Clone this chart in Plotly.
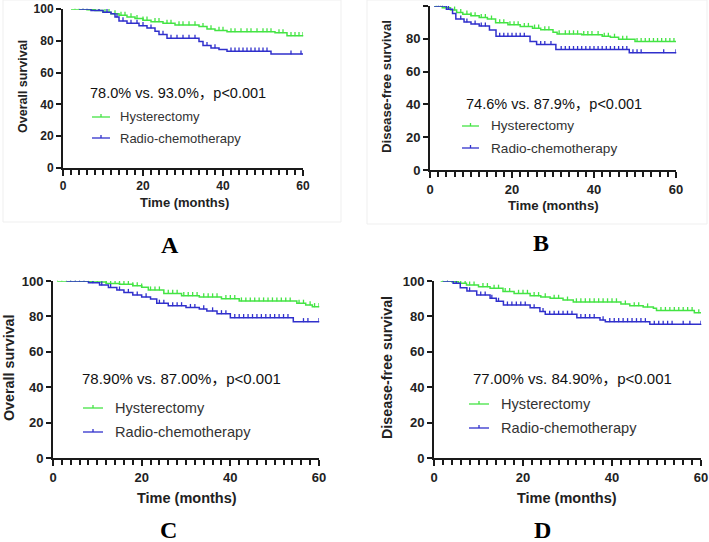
import numpy as np
import plotly.graph_objects as go

W, H = 709, 542

# ---------------- DATA ----------------
time_ticks = [0, 20, 40, 60]
surv_ticks = [0, 20, 40, 60, 80, 100]

# Panel A - Overall survival
A_hyst_t = [2, 6, 8, 10, 12, 14, 16, 18, 20, 22, 25, 28, 34, 36, 38, 41, 53, 56, 60]
A_hyst_s = [100, 99.5, 99, 98, 97, 96, 95, 94, 93, 92, 91, 90, 89, 87.5, 86.5, 85.7, 85, 83.2, 83.2]
A_hyst_c = [3, 4, 5, 6.5, 8, 9, 10.5, 11.5, 13, 14.5, 15.5, 17, 18.5, 20, 21, 23, 24, 26, 27, 29, 30,
            31.5, 33, 35, 37, 39, 40, 42, 43, 44.5, 46, 47, 48.5, 50, 51, 52, 54, 55, 57, 58, 59, 60]
A_radio_t = [4, 7, 10, 12, 13, 14, 16, 19, 21, 23, 24, 26, 34, 35, 37, 39, 41, 52, 60]
A_radio_s = [100, 99, 98, 97, 95, 92.5, 91, 89.5, 88, 86, 84, 81.6, 79.5, 77, 75.5, 74.5, 73.5, 71.7, 71.7]
A_radio_c = [5, 6, 9, 11, 13.5, 15, 17, 18.5, 20, 22, 25, 27, 28.5, 30, 31.5, 33, 36, 38,
             42, 43, 44, 45, 46, 47, 48, 49, 50, 51, 57, 59.5]

# Panel B - Disease-free survival
B_hyst_t = [1, 3, 5, 6.5, 8, 10, 12, 14, 16, 19, 22, 25, 27, 30, 31, 37, 42, 44, 46, 50, 60]
B_hyst_s = [100, 99, 97.5, 96, 95, 94, 93, 92, 89.8, 88.5, 87.5, 86.5, 85.5, 84, 83, 82.5, 81.5, 80.9, 79.7, 78.3, 78.3]
B_hyst_c = [1.5, 2.5, 3.5, 4.5, 6, 7.5, 9, 10, 11, 12.5, 13.5, 15, 17, 18, 19.5, 20.5, 21.5, 23, 24, 25.5,
            26.5, 28, 29, 31.5, 33, 34, 35, 36, 37.5, 38.5, 39.5, 41, 42.5, 43.5, 45, 47, 48, 50.5, 51.5,
            52.5, 53.5, 54.5, 55.5, 56.5, 57.5, 58.5, 59.5]
B_radio_t = [1, 4, 5.5, 6.3, 8.3, 10, 12, 14.5, 16.1, 24.4, 26, 30.7, 48.6, 60]
B_radio_s = [100, 98, 95.5, 92, 90.2, 89, 87.8, 85.4, 81.5, 78.3, 76.5, 73.4, 71.5, 71.5]
B_radio_c = [2, 3, 4.5, 7.5, 9, 11, 12.5, 13.5, 17, 18, 19, 20, 21, 22, 23, 27, 28, 29.5, 32, 33, 34, 35,
             36, 37, 38, 39, 40, 41, 42, 43, 44, 45, 46, 47, 48, 49.5, 50.5, 51.5, 57, 60]

# Panel C - Overall survival
C_hyst_t = [1, 6, 9, 12, 15, 18, 20, 21.5, 25, 29, 33, 38, 42, 55, 57, 58.5, 60]
C_hyst_s = [100, 99.8, 99.4, 98.6, 98.1, 97.3, 96.5, 94.9, 93, 91.7, 91, 90, 88.7, 87.4, 86.5, 85.5, 85.5]
C_hyst_c = [1, 2, 3, 4, 5, 6, 7, 8, 9, 10, 11, 12, 13, 14, 15, 16, 17, 18, 19, 20, 22, 23, 24, 26, 27, 28,
            29.5, 30.5, 31.5, 32.5, 34, 35, 36, 37, 39, 40, 41, 42.5, 43.5, 44.5, 45.5, 46.5, 47.5, 48.5,
            49.5, 50.5, 51.5, 52.5, 53.5, 55.5, 56.5, 58, 59, 60]
C_radio_t = [3, 8, 10.5, 12.5, 14.4, 16, 18, 20, 22, 23.4, 26, 30, 33, 34.7, 37, 40, 54.2, 60]
C_radio_s = [100, 99, 97.7, 96.3, 94.9, 93.5, 92.1, 91, 89.8, 87.4, 86, 85, 84.2, 83.1, 81.5, 79.3, 77, 77]
C_radio_c = [4, 5, 6, 7, 9, 11, 13, 15, 17, 19, 21, 24, 25, 27, 28, 29, 31, 32, 34, 36, 38, 39, 41, 42,
             43, 44, 45, 46, 47, 48, 49, 50, 51, 52, 53, 56.5, 57.5, 60]

# Panel D - Disease-free survival
D_hyst_t = [1.5, 4, 5.5, 7.3, 10, 12.6, 15.5, 18, 21.6, 24, 26.1, 29, 31.3, 42, 44, 47, 49.3, 50, 58.5, 60]
D_hyst_s = [100, 99.6, 98.7, 97.7, 96.8, 95.9, 94, 93, 91.7, 91, 90.2, 89.2, 88.2, 87, 86, 85.3, 84.6, 83.3, 82, 82]
D_hyst_c = [2, 3, 4.5, 6, 7, 8, 9, 11, 12, 13.5, 14.5, 16, 17, 19, 20, 21, 22.5, 23.5, 25, 27, 28, 30, 32,
            33, 34, 35, 36, 37, 38, 39, 40, 41, 43, 45, 46, 48, 51, 52, 53, 54, 55, 56, 57, 58, 59.5]
D_radio_t = [2, 4.3, 5.9, 7.4, 9.6, 12.6, 14, 15.6, 21.6, 23.8, 25, 32.1, 37.3, 38.5, 48.5, 60]
D_radio_s = [100, 98.7, 96.2, 94.4, 92.1, 90.2, 88.5, 86.4, 84.9, 82.7, 81.2, 79.3, 78, 77, 75.5, 75.5]
D_radio_c = [3, 5, 8, 10.5, 11.5, 13, 14.5, 16.5, 17.5, 18.5, 19.5, 20.5, 22.5, 24.5, 26, 27, 28, 29, 30,
             31, 33, 34, 35, 36, 38, 39.5, 40.5, 41.5, 42.5, 43.5, 44.5, 45.5, 46.5, 47.5, 49.5, 50.5,
             51.5, 52.5, 53.5, 56, 57.5, 60]

stats_text = {
    "A": "78.0% vs. 93.0%，p<0.001",
    "B": "74.6% vs. 87.9%，p<0.001",
    "C": "78.90% vs. 87.00%，p<0.001",
    "D": "77.00% vs. 84.90%，p<0.001",
}
y_titles = {"A": "Overall survival", "B": "Disease-free survival",
            "C": "Overall survival", "D": "Disease-free survival"}
x_title = "Time (months)"
group_names = ["Hysterectomy", "Radio-chemotherapy"]

# ---------------- STYLE / LAYOUT ----------------
GREEN = "#44e444"
BLUE = "#3030cc"
AXC = "#1a1a1a"
SANS = "Arial, Liberation Sans, Noto Sans CJK SC, sans-serif"
SERIF = "Times New Roman, Liberation Serif, serif"
CENSOR_PX = 3.6   # censor tick height in pixels (style)

def px(x):
    return x / W

def py(y):
    return 1 - y / H

panels = {
    "A": dict(box=(63, 303, 9, 168), tickf=12, titf=(12.5, 13), ytit=(23, 87), xtit=(184, 202),
              stat=(88, 93, 14.5), leg=(92, 110, 118, 117, 138, 13), letter=(170, 245)),
    "B": dict(box=(430, 676, 6, 170), tickf=13, titf=(13.3, 13.2), ytit=(387, 87), xtit=(553, 206),
              stat=(464, 104, 14.5), leg=(462, 479, 489, 126, 148, 13.6), letter=(541, 243)),
    "C": dict(box=(53, 319, 281, 458), tickf=13, titf=(14.3, 14.5), ytit=(9, 368), xtit=(187, 498),
              stat=(80, 378, 15), leg=(83, 103, 113, 408, 432, 14.6), letter=(168, 530)),
    "D": dict(box=(434, 701, 281, 458), tickf=13, titf=(14.3, 14.5), ytit=(387, 368), xtit=(567, 498),
              stat=(471, 378, 15), leg=(469, 489, 499, 404, 428, 14.6), letter=(542, 530)),
}
series = {
    "A": [(A_hyst_t, A_hyst_s, A_hyst_c), (A_radio_t, A_radio_s, A_radio_c)],
    "B": [(B_hyst_t, B_hyst_s, B_hyst_c), (B_radio_t, B_radio_s, B_radio_c)],
    "C": [(C_hyst_t, C_hyst_s, C_hyst_c), (C_radio_t, C_radio_s, C_radio_c)],
    "D": [(D_hyst_t, D_hyst_s, D_hyst_c), (D_radio_t, D_radio_s, D_radio_c)],
}
colors = [GREEN, BLUE]


def step_value(ts, ss, t):
    ts = np.asarray(ts, float)
    idx = np.searchsorted(ts, t, side="right") - 1
    idx = max(idx, 0)
    return ss[idx]


fig = go.Figure()
layout = dict(width=W, height=H, margin=dict(l=0, r=0, t=0, b=0),
              paper_bgcolor="white", plot_bgcolor="rgba(0,0,0,0)", showlegend=False)
annotations = []
shapes = []

# faint frames around the top panels
shapes.append(dict(type="rect", xref="paper", yref="paper", x0=px(3), x1=px(341), y0=py(222), y1=py(0),
                   line=dict(color="#efefef", width=1)))
shapes.append(dict(type="rect", xref="paper", yref="paper", x0=px(367), x1=px(707), y0=py(224), y1=py(0),
                   line=dict(color="#efefef", width=1)))

for i, (name, p) in enumerate(panels.items(), start=1):
    x0, x1, yt, yb = p["box"]
    xa = "xaxis" if i == 1 else f"xaxis{i}"
    ya = "yaxis" if i == 1 else f"yaxis{i}"
    xr = "x" if i == 1 else f"x{i}"
    yr = "y" if i == 1 else f"y{i}"
    tickfont = dict(family=SANS, size=p["tickf"], color="#222", weight="bold")
    layout[xa] = dict(domain=[px(x0), px(x1)], range=[0, 60], anchor=yr, showgrid=False, zeroline=False,
                      showline=True, linewidth=2, linecolor=AXC, ticks="outside", ticklen=6, tickwidth=2,
                      tickcolor=AXC, tickvals=time_ticks, tickfont=tickfont, automargin=False,
                      minor=dict(dtick=2, tick0=0, ticks="outside", ticklen=5, tickwidth=1.6, tickcolor=AXC,
                                 showgrid=False))
    layout[ya] = dict(domain=[py(yb), py(yt)], range=[0, 100], anchor=xr, showgrid=False, zeroline=False,
                      showline=True, linewidth=2, linecolor=AXC, ticks="outside", ticklen=5, tickwidth=2,
                      tickcolor=AXC, tickvals=surv_ticks, tickfont=tickfont, automargin=False)

    units_per_px = 100.0 / (yb - yt)
    for (ts, ss, cs), col, gname in zip(series[name], colors, group_names):
        fig.add_trace(go.Scatter(x=ts, y=ss, mode="lines", line=dict(color=col, width=1.5, shape="hv"),
                                 xaxis=xr, yaxis=yr, cliponaxis=False, name=gname, hoverinfo="skip"))
        cy = [step_value(ts, ss, c) for c in cs]
        fig.add_trace(go.Scatter(x=cs, y=cy, mode="markers",
                                 marker=dict(size=1, color=col),
                                 error_y=dict(type="constant", value=CENSOR_PX * units_per_px, valueminus=0,
                                              symmetric=False, width=0, thickness=1.3, color=col),
                                 xaxis=xr, yaxis=yr, cliponaxis=False, name=gname, hoverinfo="skip"))

    ytf, xtf = p["titf"]
    annotations.append(dict(text=y_titles[name], x=px(p["ytit"][0]), y=py(p["ytit"][1]), xref="paper",
                            yref="paper", showarrow=False, textangle=-90, xanchor="center", yanchor="middle",
                            font=dict(family=SANS, size=ytf, color="#222", weight="bold")))
    annotations.append(dict(text=x_title, x=px(p["xtit"][0]), y=py(p["xtit"][1]), xref="paper",
                            yref="paper", showarrow=False, xanchor="center", yanchor="middle",
                            font=dict(family=SANS, size=xtf, color="#222", weight="bold")))
    sx, sy, sf = p["stat"]
    annotations.append(dict(text=stats_text[name], x=px(sx), y=py(sy), xref="paper", yref="paper",
                            showarrow=False, xanchor="left", yanchor="middle",
                            font=dict(family=SANS, size=sf, color="#111")))
    lx0, lx1, tx, ly1, ly2, lf = p["leg"]
    for ly, col, gname in zip([ly1, ly2], colors, group_names):
        shapes.append(dict(type="line", xref="paper", yref="paper", x0=px(lx0), x1=px(lx1), y0=py(ly),
                           y1=py(ly), line=dict(color=col, width=1.3)))
        mx = (lx0 + lx1) / 2
        shapes.append(dict(type="line", xref="paper", yref="paper", x0=px(mx), x1=px(mx), y0=py(ly),
                           y1=py(ly - 3), line=dict(color=col, width=1.3)))
        annotations.append(dict(text=gname, x=px(tx), y=py(ly), xref="paper", yref="paper", showarrow=False,
                                xanchor="left", yanchor="middle",
                                font=dict(family=SANS, size=lf, color="#333")))
    annotations.append(dict(text=name, x=px(p["letter"][0]), y=py(p["letter"][1]), xref="paper",
                            yref="paper", showarrow=False, xanchor="center", yanchor="middle",
                            font=dict(family=SERIF, size=24, color="#000", weight="bold")))

layout["annotations"] = annotations
layout["shapes"] = shapes
fig.update_layout(**layout)
fig.write_html("out.html", config={"displayModeBar": False},
               post_script="document.body.style.margin='0px';document.body.style.overflow='hidden';")
